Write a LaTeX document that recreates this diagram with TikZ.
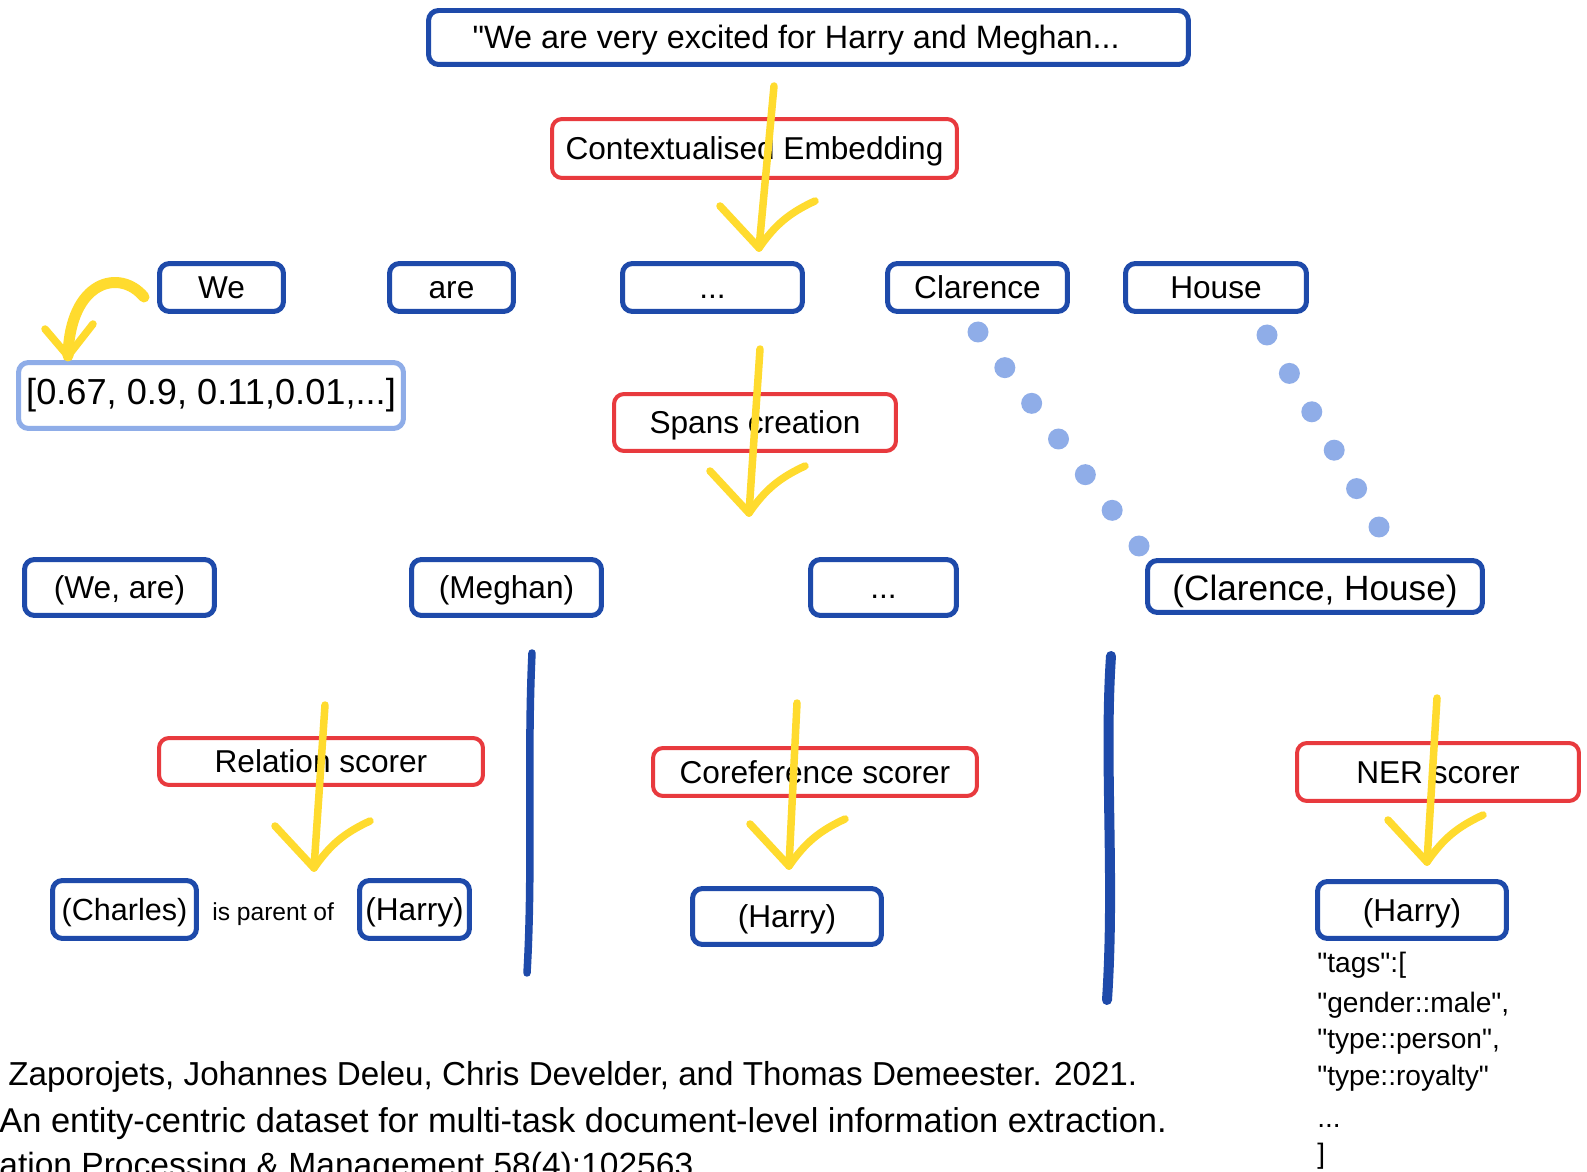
\documentclass[tikz,border=0pt]{standalone}
\usepackage{fontspec}
\newfontfamily\diagfont{Liberation Sans}
\usepackage{tikz}
\usetikzlibrary{calc}
\definecolor{boxblue}{RGB}{30,74,170}
\definecolor{boxred}{RGB}{232,58,62}
\definecolor{pale}{RGB}{143,173,232}
\definecolor{marker}{RGB}{255,219,46}
\tikzstyle{bluebox}=[draw=boxblue,line width=0.1cm,rounded corners=0.2cm,inner sep=2pt,text height=17pt,text depth=4pt,font=\fontsize{18}{22}\selectfont]
\tikzstyle{redbox}=[draw=boxred,line width=0.08cm,rounded corners=0.2cm,inner sep=2pt,text height=17pt,text depth=4pt,font=\fontsize{18}{22}\selectfont]
\tikzstyle{palebox}=[draw=pale,line width=0.1cm,rounded corners=0.2cm,inner sep=2pt,text height=15pt,text depth=4.5pt,font=\fontsize{20.6}{25}\selectfont]
\tikzstyle{yellowline}=[draw=marker,line width=0.15cm,line cap=round]
\tikzstyle{divider}=[draw=boxblue,line cap=round]
\tikzstyle{tagline}=[anchor=base west,inner sep=0pt,font=\fontsize{16}{19}\selectfont]
\tikzstyle{refline}=[anchor=base west,inner sep=0pt]

\begin{document}
\diagfont
\begin{tikzpicture}[x=0.02cm,y=-0.02cm]
            \fill[white] (0,0) rectangle (1587,1172);
            \useasboundingbox (0,0) rectangle (1587,1172);
            % sentence, embedding and tokens
            \node[bluebox, minimum width=15.2cm, minimum height=1.08cm, font=\fontsize{18.4}{22}\selectfont] (sent) at (808.5,37.5) {"We are very excited for Harry and Meghan...\hspace*{14pt}};
            \node[redbox, minimum width=8.1cm, minimum height=1.18cm] (embed) at (754.5,148.5) {Contextualised Embedding};
            \node[bluebox, minimum width=2.48cm, minimum height=0.96cm] (we) at (221.5,287.5) {We};
            \node[bluebox, minimum width=2.48cm, minimum height=0.96cm] (are) at (451.5,287.5) {are};
            \node[bluebox, minimum width=3.6cm, minimum height=0.96cm] (tokdots) at (712.5,287.5) {...};
            \node[bluebox, minimum width=3.6cm, minimum height=0.96cm] (clarence) at (977.5,287.5) {Clarence};
            \node[bluebox, minimum width=3.62cm, minimum height=0.96cm] (house) at (1216,287.5) {House};
            \node[palebox, minimum width=7.7cm, minimum height=1.32cm] (vec) at (211,395.5) {[0.67, 0.9, 0.11,0.01,...]};
            % spans
            \node[redbox, minimum width=5.64cm, minimum height=1.14cm] (spans) at (755,422.5) {Spans creation};
            \node[bluebox, minimum width=3.8cm, minimum height=1.12cm] (weare) at (119.5,587.5) {(We, are)};
            \node[bluebox, minimum width=3.8cm, minimum height=1.12cm] (meghan) at (506.5,587.5) {(Meghan)};
            \node[bluebox, minimum width=2.92cm, minimum height=1.12cm] (spandots) at (883.5,587.5) {...};
            \node[bluebox, minimum width=6.7cm, minimum height=1.04cm, font=\fontsize{20}{24}\selectfont, text height=20pt] (clhouse) at (1315,586.5) {(Clarence, House)};
            % scorers
            \node[redbox, minimum width=6.48cm, minimum height=0.94cm] (rel) at (321,761.5) {Relation scorer};
            \node[redbox, minimum width=6.48cm, minimum height=0.96cm] (coref) at (815,772) {Coreference scorer};
            \node[redbox, minimum width=5.64cm, minimum height=1.16cm] (ner) at (1438,772) {NER scorer};
            \node[bluebox, minimum width=2.88cm, minimum height=1.16cm, font=\fontsize{17.4}{21}\selectfont] (charles) at (124.5,909.5) {(Charles)};
            \node[anchor=base west, inner sep=0pt, font=\fontsize{14}{17}\selectfont] (parent) at (212,920) {is parent of};
            \node[bluebox, minimum width=2.2cm, minimum height=1.16cm] (harryrel) at (414.5,909.5) {(Harry)};
            \node[bluebox, minimum width=3.78cm, minimum height=1.12cm] (harrycoref) at (787,916.5) {(Harry)};
            \node[bluebox, minimum width=3.78cm, minimum height=1.14cm] (harryner) at (1412,910) {(Harry)};
            \node[tagline] (t1) at (1317,972) {"tags":[};
            \node[tagline] (t2) at (1317,1012) {"gender::male",};
            \node[tagline] (t3) at (1317,1048) {"type::person",};
            \node[tagline] (t4) at (1317,1085) {"type::royalty"};
            \node[tagline] (t5) at (1317,1127) {...};
            \node[tagline] (t6) at (1317,1163) {]};
            % reference
            \node[refline, font=\fontsize{18.9}{22}\selectfont] (ref1) at (8,1085) {Zaporojets, Johannes Deleu, Chris Develder, and Thomas Demeester. 2021.};
            \node[refline, font=\fontsize{19.6}{23}\selectfont] (ref2) at (-1,1132) {An entity-centric dataset for multi-task document-level information extraction.};
            \node[refline, font=\fontsize{19.1}{23}\selectfont] (ref3) at (-1,1176) {ation Processing \& Management 58(4):102563};
            % span dots
            \coordinate (clarA) at (978,332);
            \coordinate (clarB) at (1139,546);
            \coordinate (houseA) at (1267,335);
            \coordinate (houseB) at (1379,527);
            \foreach \t in {0,...,6}
                \fill[pale] ($(clarA)!\t/6!(clarB)$) circle (0.21cm);
            \foreach \t in {0,...,5}
                \fill[pale] ($(houseA)!\t/5!(houseB)$) circle (0.21cm);
            % dividers
            \draw[divider, line width=0.15cm] (532,653) .. controls (527,760) and (533,870) .. (527,973);
            \draw[divider, line width=0.2cm] (1111,656) .. controls (1104,760) and (1115,880) .. (1107,1000);
            % yellow arrows
            \coordinate (a1) at (774,86);   \coordinate (b1) at (759,248);
            \coordinate (a2) at (760,349);  \coordinate (b2) at (749,513);
            \coordinate (a3) at (325,705);  \coordinate (b3) at (314,868);
            \coordinate (a4) at (797,703);  \coordinate (b4) at (789,866);
            \coordinate (a5) at (1437,698); \coordinate (b5) at (1427,862);
            \foreach \n in {1,...,5} {
                \draw[yellowline] (a\n) -- (b\n);
                \draw[yellowline] ($(b\n)+(-39,-42)$) -- (b\n);
                \draw[yellowline] ($(b\n)+(56,-47)$) to[bend right=15] (b\n);
            }
            \coordinate (c0) at (144,297);
            \coordinate (c1) at (68,356);
            \draw[yellowline, line width=0.22cm] (c0) .. controls (120,268) and (70,280) .. (c1);
            \draw[yellowline] (45,329) -- (c1);
            \draw[yellowline] (93,324) -- (c1);
\end{tikzpicture}
\end{document}
